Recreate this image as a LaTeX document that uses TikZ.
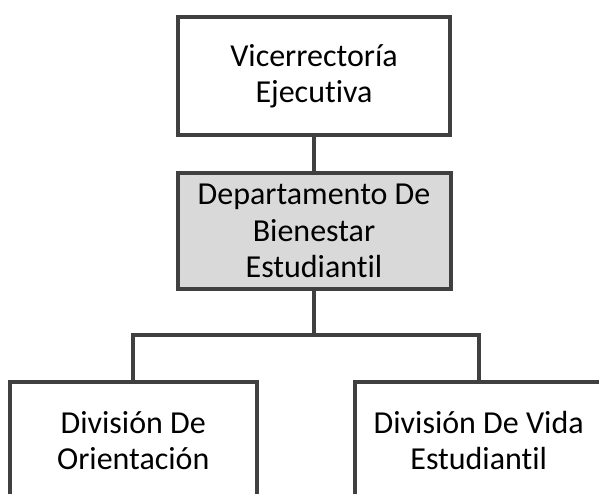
\documentclass[tikz,border=0pt]{standalone}
\usepackage{fontspec}
\setmainfont{Carlito}[Ligatures={NoCommon}]
\usetikzlibrary{positioning,calc}
\definecolor{edgegray}{RGB}{64,64,64}
\definecolor{boxgray}{RGB}{217,217,217}

\begin{document}
\begin{tikzpicture}[x=1pt, y=1pt,
  orgbox/.style={draw=edgegray, line width=4pt, fill=white, align=center,
    inner sep=0pt, outer sep=0pt, minimum height=117.5pt,
    font=\fontsize{32}{36.5}\selectfont},
  unitbox/.style={orgbox, fill=boxgray},
  orgedge/.style={draw=edgegray, line width=4pt}]

\clip (0,0) rectangle (599,-494);
\fill[white] (0,0) rectangle (599,-494);

\node[orgbox, minimum width=272pt] (vice) at (314,-76.25) {Vicerrectoría\\Ejecutiva};
\node[unitbox, minimum width=273pt, minimum height=116pt, below=38pt of vice]
  (dept) {Departamento De\\Bienestar\\Estudiantil};

\node[orgbox, minimum width=247.5pt, anchor=north] (orient) at (133.25,-382)
  {División De\\Orientación};
\node[orgbox, minimum width=247.5pt, anchor=north] (vida) at (478.75,-382)
  {División De Vida\\Estudiantil};

\coordinate (bus) at ($(dept.south)+(0,-46)$);

\draw[orgedge] (vice) -- (dept);
\draw[orgedge] (dept) -- (bus);
\draw[orgedge] (orient.north) |- (bus) -| (vida.north);

\end{tikzpicture}
\end{document}
